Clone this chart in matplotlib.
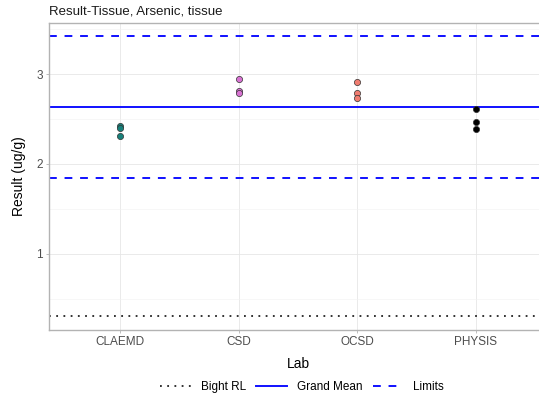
import matplotlib
matplotlib.use("Agg")
import matplotlib.pyplot as plt
from matplotlib.lines import Line2D
from matplotlib.ticker import MultipleLocator

plt.rcParams['font.family'] = ['Liberation Sans', 'DejaVu Sans']

# Lab results for arsenic in tissue
labs = ["CLAEMD", "CSD", "OCSD", "PHYSIS"]
results = {
    "CLAEMD": [2.42, 2.40, 2.31],
    "CSD": [2.94, 2.81, 2.79],
    "OCSD": [2.91, 2.79, 2.73],
    "PHYSIS": [2.61, 2.47, 2.39],
}
lab_colors = {
    "CLAEMD": "#17807a",
    "CSD": "#d872d2",
    "OCSD": "#f07c70",
    "PHYSIS": "#000000",
}
grand_mean = 2.63
upper_limit = 3.42
lower_limit = 1.84
bight_rl = 0.31

y_ticks = [1, 2, 3]

fig = plt.figure(figsize=(5.39, 4.01), dpi=100)
ax = fig.add_axes([49 / 539, 1 - 330 / 401, (547 - 49) / 539, (330 - 23) / 401])

ax.set_xlim(0.4, 4.6)
ax.set_ylim(0.155, 3.567)

# grid in the style of a light theme
ax.yaxis.set_minor_locator(MultipleLocator(0.5))
ax.set_yticks(y_ticks)
ax.set_yticklabels([str(v) for v in y_ticks])
ax.set_xticks(range(1, len(labs) + 1))
ax.set_xticklabels(labs)
ax.grid(which="major", color="#e6e6e6", linewidth=0.6)
ax.grid(which="minor", axis="y", color="#f2f2f2", linewidth=0.4)
ax.set_axisbelow(True)
for s in ax.spines.values():
    s.set_color("#b3b3b3")
    s.set_linewidth(1.0)
ax.tick_params(axis="both", which="major", colors="#b3b3b3", labelcolor="#4d4d4d",
               labelsize=8.5, length=2.5, width=0.6, pad=2)
ax.tick_params(axis="y", which="minor", length=0)

# reference lines
ax.axhline(bight_rl, color="#222222", linestyle=(0, (1, 3)), linewidth=1.3)
ax.axhline(grand_mean, color="#1010ff", linestyle="-", linewidth=1.4)
ax.axhline(upper_limit, color="#1010ff", linestyle=(0, (4, 4)), linewidth=1.4)
ax.axhline(lower_limit, color="#1010ff", linestyle=(0, (4, 4)), linewidth=1.4)

for i, lab in enumerate(labs, start=1):
    vals = results[lab]
    ax.scatter([i] * len(vals), vals, s=20, color=lab_colors[lab],
               edgecolor="#333333", linewidth=0.5, zorder=3)

ax.set_xlabel("Lab", fontsize=10, labelpad=6)
ax.set_ylabel("Result (ug/g)", fontsize=10, labelpad=7)
fig.text(49 / 539, 1 - 12 / 401, "Result-Tissue, Arsenic, tissue", fontsize=9.5,
         ha="left", va="center", color="#1a1a1a")

handles = [
    Line2D([], [], color="#222222", linestyle=(0, (1, 3)), linewidth=1.3),
    Line2D([], [], color="#1010ff", linestyle="-", linewidth=1.4),
    Line2D([], [], color="#1010ff", linestyle=(0, (4, 4)), linewidth=1.4),
]
fig.legend(handles, ["Bight RL", "Grand Mean", "Limits"], loc="center",
           bbox_to_anchor=(302 / 539, 1 - 387 / 401), ncol=3, frameon=False,
           fontsize=8.5, handlelength=2.6, columnspacing=0.9, handletextpad=0.8)

fig.savefig("out.png", dpi=100)
